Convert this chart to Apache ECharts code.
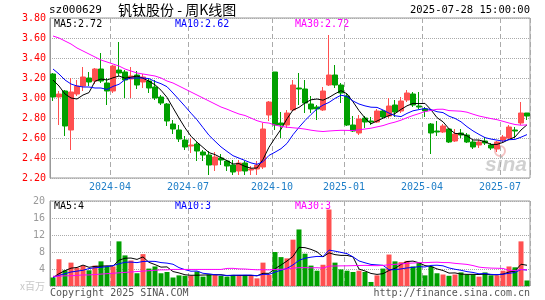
<!DOCTYPE html>
<html>
<head>
<meta charset="utf-8">
<script src="https://cdn.jsdelivr.net/npm/echarts@6/dist/echarts.min.js"></script>
<style>
  html, body { margin: 0; padding: 0; background: #fff; }
  #chart { width: 545px; height: 300px; }
</style>
</head>
<body>
<div id="chart"></div>
<script>
// 周K线 每周最后一个交易日
const dates = ['2024-01-19','2024-01-26','2024-02-02','2024-02-08','2024-02-23','2024-03-01','2024-03-08','2024-03-15','2024-03-22','2024-03-29',
  '2024-04-03','2024-04-12','2024-04-19','2024-04-26','2024-04-30','2024-05-10','2024-05-17','2024-05-24','2024-05-31','2024-06-07',
  '2024-06-14','2024-06-21','2024-06-28','2024-07-05','2024-07-12','2024-07-19','2024-07-26','2024-08-02','2024-08-09','2024-08-16',
  '2024-08-23','2024-08-30','2024-09-06','2024-09-13','2024-09-20','2024-09-27','2024-09-30','2024-10-11','2024-10-18','2024-10-25',
  '2024-11-01','2024-11-08','2024-11-15','2024-11-22','2024-11-29','2024-12-06','2024-12-13','2024-12-20','2024-12-27','2025-01-03',
  '2025-01-10','2025-01-17','2025-01-24','2025-01-27','2025-02-07','2025-02-14','2025-02-21','2025-02-28','2025-03-07','2025-03-14',
  '2025-03-21','2025-03-28','2025-04-03','2025-04-11','2025-04-18','2025-04-25','2025-04-30','2025-05-09','2025-05-16','2025-05-23',
  '2025-05-30','2025-06-06','2025-06-13','2025-06-20','2025-06-27','2025-07-04','2025-07-11','2025-07-18','2025-07-25','2025-07-28'];

// [开, 收, 低, 高]
const kData = [
  [3.24,3.01,2.97,3.25],[3.01,3.04,2.73,3.07],[3.07,2.72,2.62,3.08],[2.68,3.06,2.48,3.20],[3.04,3.12,3.02,3.18],
  [3.12,3.21,3.07,3.31],[3.20,3.16,3.12,3.26],[3.17,3.29,3.14,3.30],[3.29,3.17,3.15,3.45],[3.15,3.07,2.93,3.20],
  [3.07,3.32,3.05,3.33],[3.28,3.25,3.22,3.56],[3.26,3.18,3.00,3.28],[3.19,3.22,3.00,3.31],[3.23,3.13,3.09,3.27],
  [3.16,3.21,3.10,3.24],[3.17,3.10,3.05,3.20],[3.11,3.00,2.98,3.18],[3.01,2.95,2.93,3.03],[2.94,2.77,2.72,2.95],
  [2.74,2.69,2.64,2.78],[2.68,2.59,2.56,2.73],[2.58,2.51,2.48,2.62],[2.52,2.53,2.45,2.60],[2.54,2.47,2.37,2.56],
  [2.46,2.43,2.37,2.48],[2.43,2.33,2.23,2.47],[2.33,2.41,2.27,2.46],[2.40,2.38,2.33,2.44],[2.37,2.32,2.27,2.38],
  [2.33,2.26,2.23,2.38],[2.27,2.35,2.23,2.38],[2.35,2.27,2.23,2.37],[2.28,2.29,2.23,2.32],[2.29,2.33,2.23,2.37],
  [2.31,2.69,2.29,2.75],[2.83,2.96,2.77,2.97],[3.26,2.73,2.68,3.26],[2.75,2.73,2.60,2.86],[2.73,2.85,2.70,2.88],
  [2.88,3.13,2.87,3.18],[3.10,3.09,2.93,3.25],[3.09,2.95,2.85,3.18],[2.94,2.89,2.85,3.02],[2.91,2.89,2.78,2.93],
  [2.88,3.07,2.87,3.11],[3.13,3.23,3.12,3.63],[3.23,3.13,3.10,3.33],[3.13,3.05,2.95,3.15],[3.02,2.73,2.72,3.05],
  [2.73,2.67,2.66,2.82],[2.65,2.79,2.63,2.83],[2.80,2.76,2.70,2.82],[2.77,2.76,2.73,2.81],[2.76,2.87,2.75,2.89],
  [2.87,2.81,2.79,2.88],[2.82,2.92,2.80,3.00],[2.93,2.86,2.81,2.98],[2.87,2.97,2.85,3.01],[2.98,3.05,2.96,3.08],
  [3.04,2.93,2.91,3.06],[2.92,2.91,2.89,3.06],[2.89,2.87,2.81,2.91],[2.74,2.65,2.44,2.75],[2.67,2.66,2.62,2.77],
  [2.66,2.72,2.65,2.74],[2.69,2.56,2.55,2.70],[2.57,2.64,2.56,2.69],[2.65,2.63,2.60,2.69],[2.63,2.56,2.55,2.65],
  [2.56,2.51,2.49,2.58],[2.53,2.56,2.50,2.58],[2.57,2.55,2.53,2.61],[2.53,2.50,2.48,2.55],[2.49,2.56,2.46,2.57],
  [2.58,2.61,2.56,2.63],[2.60,2.71,2.58,2.73],[2.68,2.67,2.60,2.71],[2.75,2.85,2.73,2.96],[2.85,2.82,2.78,2.85]
];

// 成交量(百万)
const volumes = [2.0,6.3,3.7,5.5,4.3,4.8,3.7,4.8,5.8,4.6, 4.6,10.5,7.2,6.0,3.0,7.5,4.1,4.6,3.0,3.3,
  2.0,2.5,2.4,2.4,3.4,2.2,2.7,2.6,2.4,2.2, 2.6,2.6,2.6,2.4,1.8,5.5,2.6,8.0,6.8,6.5,
  10.9,13.3,7.6,4.8,3.6,5.0,18.0,5.5,3.9,3.6, 3.3,3.6,3.3,0.95,2.5,4.1,7.4,5.8,5.6,5.9,
  4.6,5.4,2.5,4.6,3.0,2.7,2.4,2.7,3.2,2.7, 2.7,2.2,3.2,2.5,2.5,3.6,4.6,4.4,10.5,1.3];

// 图中读出的均线起始段(窗口之前的数据不在图内)
const priceMa5Head = [3.18,3.12,3.04,3.00];
const priceMa10Head = [3.29,3.24,3.18,3.14,3.12,3.11,3.11,3.10,3.10];
const priceMa30Head = [3.62,3.60,3.57,3.54,3.50,3.47,3.44,3.41,3.38,3.36,3.34,3.32,3.29,3.27,3.25,
  3.24,3.23,3.22,3.20,3.17,3.15,3.12,3.09,3.06,3.03,3.00,2.97,2.94,2.91];
const volMa5Head = [2.0,2.9,3.6,4.2];
const volMa10Head = [2.0,2.5,2.9,3.3,3.5,3.7,4.1,4.3,4.4];
const volMa30Head = [2.3,2.3,2.4,2.4,2.5,2.6,2.6,2.7,2.8,2.9,3.0,3.1,3.2,3.3,3.4,
  3.5,3.6,3.7,3.8,3.8,3.9,3.9,3.9,3.9,3.9,3.9,3.9,3.9,3.9];

const tickLabels = ['2024-04','2024-07','2024-10','2025-01','2025-04','2025-07'];
const priceLegend = ['MA5:2.72','MA10:2.62','MA30:2.72'];
const volLegend = ['MA5:4','MA10:3','MA30:3'];

const RED = '#ff5050';
const GREEN = '#00a000';
const MONO = '"DejaVu Sans Mono", "Liberation Mono", monospace';

function ma(values, n, head) {
  return values.map(function (_, i) {
    if (i < n - 1) return head[i];
    let s = 0;
    for (let j = i - n + 1; j <= i; j++) s += values[j];
    return +(s / n).toFixed(3);
  });
}

const closes = kData.map(d => d[1]);
const tickIdx = tickLabels.map(t => dates.findIndex(d => d.slice(0, 7) === t));
const isTick = (i) => tickIdx.indexOf(i) >= 0;

const chart = echarts.init(document.getElementById('chart'));

const gridLine = { color: '#aaa', type: 'dotted', width: 1 };
const quarterLine = { show: true, interval: isTick, lineStyle: { color: '#aaa', type: [5, 3], width: 1 } };

function maLine(name, data, color, xi, yi) {
  return {
    name: name, type: 'line', data: data, xAxisIndex: xi, yAxisIndex: yi,
    showSymbol: false, symbol: 'none', z: 5,
    lineStyle: { color: color, width: 1 }, itemStyle: { color: color }
  };
}

function txt(text, x, y, color, font, align) {
  return { type: 'text', x: x, y: y, silent: true,
    style: { text: text, fill: color, font: font, align: align || 'left', verticalAlign: 'middle' } };
}

const option = {
  animation: false,
  grid: [
    { left: 50, right: 15, top: 18, height: 160, show: true, borderColor: '#999', borderWidth: 1 },
    { left: 50, right: 15, top: 201, height: 85, show: true, borderColor: '#999', borderWidth: 1 }
  ],
  xAxis: [
    {
      type: 'category', gridIndex: 0, data: dates, boundaryGap: true,
      axisLine: { show: false }, axisTick: { show: false },
      axisLabel: {
        interval: isTick, formatter: v => v.slice(0, 7),
        color: '#1f7fc8', fontSize: 10, fontFamily: MONO, margin: 4, padding: [0, 6, 0, 0]
      },
      splitLine: quarterLine
    },
    {
      type: 'category', gridIndex: 1, data: dates, boundaryGap: true,
      axisLine: { show: false }, axisTick: { show: false }, axisLabel: { show: false },
      splitLine: quarterLine
    }
  ],
  yAxis: [
    {
      type: 'value', gridIndex: 0, min: 2.2, max: 3.8, interval: 0.2,
      axisLine: { show: true, lineStyle: { color: '#999' } }, axisTick: { show: false },
      axisLabel: { color: '#ff0000', fontSize: 10, fontFamily: MONO, margin: 4, formatter: v => v.toFixed(2) },
      splitLine: { show: true, lineStyle: gridLine }
    },
    {
      type: 'value', gridIndex: 1, min: 0, max: 20, interval: 4,
      axisLine: { show: true, lineStyle: { color: '#999' } }, axisTick: { show: false },
      axisLabel: {
        color: '#999', fontSize: 10, fontFamily: MONO, margin: 5,
        formatter: v => v === 0 ? '{u|x百万}' : String(v),
        rich: { u: { color: '#c8c8c8', fontSize: 10, fontFamily: '"Noto Sans CJK SC", sans-serif' } }
      },
      splitLine: { show: true, lineStyle: gridLine }
    }
  ],
  series: [
    {
      type: 'candlestick', data: kData, xAxisIndex: 0, yAxisIndex: 0, barWidth: 5,
      itemStyle: { color: RED, color0: GREEN, borderColor: RED, borderColor0: GREEN, borderWidth: 1 }
    },
    maLine('MA5', ma(closes, 5, priceMa5Head), '#000000', 0, 0),
    maLine('MA10', ma(closes, 10, priceMa10Head), '#0000ff', 0, 0),
    maLine('MA30', ma(closes, 30, priceMa30Head), '#ff00ff', 0, 0),
    {
      type: 'bar', xAxisIndex: 1, yAxisIndex: 1, barWidth: 5,
      data: volumes.map((v, i) => ({
        value: v,
        itemStyle: { color: kData[i][1] >= kData[i][0] ? RED : GREEN }
      }))
    },
    maLine('VMA5', ma(volumes, 5, volMa5Head), '#000000', 1, 1),
    maLine('VMA10', ma(volumes, 10, volMa10Head), '#0000ff', 1, 1),
    maLine('VMA30', ma(volumes, 30, volMa30Head), '#ff00ff', 1, 1)
  ],
  graphic: [
    txt('sz000629', 49, 10, '#000', '11px ' + MONO),
    txt('钒钛股份 - 周K线图', 118, 10, '#000', '14px "Noto Sans CJK SC", sans-serif'),
    txt('2025-07-28 15:00:00', 530, 10, '#000', '10.5px ' + MONO, 'right'),
    txt(priceLegend[0], 54, 24, '#000', '10px ' + MONO),
    txt(priceLegend[1], 175, 24, '#0000ff', '10px ' + MONO),
    txt(priceLegend[2], 295, 24, '#ff00ff', '10px ' + MONO),
    txt(volLegend[0], 54, 206, '#000', '10px ' + MONO),
    txt(volLegend[1], 175, 206, '#0000ff', '10px ' + MONO),
    txt(volLegend[2], 295, 206, '#ff00ff', '10px ' + MONO),
    txt('Copyright 2025 SINA.COM', 50, 293, '#555', '10px ' + MONO),
    txt('http://finance.sina.com.cn', 530, 293, '#555', '10px ' + MONO, 'right'),
    txt('sina', 527, 165, 'rgba(150,150,150,0.45)', 'italic bold 21px "Liberation Sans", sans-serif', 'right'),
    { type: 'circle', silent: true, shape: { cx: 500, cy: 151, r: 5 },
      style: { fill: 'none', stroke: 'rgba(230,120,120,0.45)', lineWidth: 2 } }
  ]
};

chart.setOption(option);
</script>
</body>
</html>
